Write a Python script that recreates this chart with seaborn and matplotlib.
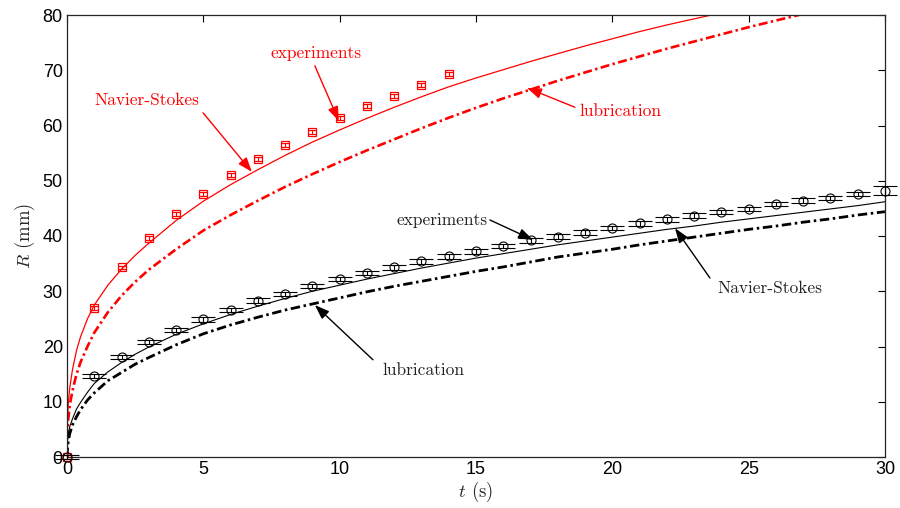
import numpy as np
import pandas as pd
import matplotlib
matplotlib.use("Agg")
import matplotlib.pyplot as plt
import seaborn as sns

# ---------------- data ----------------
t_exp_red = [0, 1, 2, 3, 4, 5, 6, 7, 8, 9, 10, 11, 12, 13, 14]
R_exp_red = [0, 27.0, 34.3, 39.6, 44.0, 47.6, 51.0, 53.9, 56.5, 58.9, 61.3, 63.5, 65.4, 67.3, 69.3]
err_red = [0.35] * len(t_exp_red)

t_exp_black = list(range(0, 31))
R_exp_black = [0, 14.7, 18.1, 20.8, 23.0, 24.9, 26.6, 28.3, 29.5, 30.9, 32.2,
               33.3, 34.3, 35.4, 36.3, 37.2, 38.2, 39.2, 39.9, 40.6, 41.5,
               42.3, 43.0, 43.7, 44.3, 44.9, 45.8, 46.4, 46.9, 47.6, 48.2]
err_black = [0.4] * 30 + [0.8]

t_curve = [0, 0.02, 0.05, 0.1, 0.2, 0.35, 0.5, 0.75, 1, 1.5, 2, 2.5, 3, 4, 5, 6, 7, 8, 9, 10,
           11, 12, 13, 14, 15, 16, 17, 18, 19, 20, 21, 22, 23, 24, 25, 26, 27, 28, 29, 30]

R_ns_red = [0, 7.0, 9.8, 12.5, 15.8, 19.3, 21.8, 25.0, 27.5, 31.1, 34.0, 36.5, 38.7, 42.8, 46.3,
            49.3, 52.0, 54.6, 57.0, 59.2, 61.3, 63.3, 65.2, 67.0, 68.6, 70.1, 71.6, 73.0, 74.4,
            75.7, 77.0, 78.2, 79.3, 80.4, 81.5, 82.6, 83.6, 84.6, 85.6, 86.6]

R_lub_red = [0, 4.8, 7.0, 9.3, 12.0, 15.0, 17.2, 20.0, 22.5, 26.2, 29.2, 31.7, 33.9, 37.6, 41.0,
             43.8, 46.4, 48.9, 51.2, 53.4, 55.5, 57.5, 59.5, 61.4, 63.2, 64.9, 66.5, 68.1, 69.6,
             71.1, 72.5, 73.9, 75.2, 76.5, 77.8, 79.0, 80.2, 81.4, 82.5, 83.6]

R_ns_black = [0, 3.0, 4.2, 5.5, 6.9, 8.7, 9.9, 11.7, 13.3, 15.4, 17.1, 18.6, 19.9, 22.2, 24.1,
              25.8, 27.3, 28.7, 30.0, 31.1, 32.2, 33.2, 34.2, 35.1, 36.0, 36.8, 37.6, 38.4, 39.1,
              39.8, 40.5, 41.2, 41.8, 42.5, 43.1, 43.7, 44.3, 44.9, 45.5, 46.2]

R_lub_black = [0, 1.8, 2.9, 4.2, 5.8, 7.3, 8.6, 10.3, 11.6, 13.8, 15.3, 16.8, 18.0, 20.3, 22.3,
               23.9, 25.3, 26.6, 27.7, 28.8, 29.9, 30.9, 31.8, 32.7, 33.6, 34.4, 35.3, 36.2, 36.9,
               37.6, 38.4, 39.1, 39.8, 40.5, 41.2, 41.8, 42.5, 43.1, 43.8, 44.4]

x_ticks = [0, 5, 10, 15, 20, 25, 30]
y_ticks = [0, 10, 20, 30, 40, 50, 60, 70, 80]

# ---------------- style ----------------
sns.set_theme(style="white")
plt.rcParams['font.family'] = ['Liberation Sans', 'DejaVu Sans']
plt.rcParams['mathtext.fontset'] = 'cm'
plt.rcParams['axes.unicode_minus'] = False

fig = plt.figure(figsize=(9, 5.08), dpi=100)
ax = fig.add_axes([67/900, 51/508, 818/900, 442/508])

RED = '#ff0000'

def curve(t, R, color, lw, dashed):
    n0 = len(ax.lines)
    sns.lineplot(x=t, y=R, ax=ax, color=color, linewidth=lw, estimator=None,
                 sort=False, legend=False)
    ln = ax.lines[n0]
    if dashed:
        ln.set_dashes([3.4, 1.3, 0.9, 1.3])
    return ln

curve(t_curve, R_ns_red, RED, 0.9, False)
curve(t_curve, R_lub_red, RED, 1.9, True)
curve(t_curve, R_ns_black, 'black', 0.8, False)
curve(t_curve, R_lub_black, 'black', 2.0, True)

# experiments with error bars
ax.errorbar(t_exp_red, R_exp_red, yerr=err_red, fmt='s', ms=5.3, mfc='none',
            mec=RED, ecolor=RED, elinewidth=0.8, capsize=2.8, capthick=0.8,
            mew=0.9, zorder=5, clip_on=False)
ax.errorbar(t_exp_black, R_exp_black, yerr=err_black, fmt='o', ms=6.5, mfc='none',
            mec='black', ecolor='black', elinewidth=0.8, capsize=8.5, capthick=0.8,
            mew=0.8, zorder=5, clip_on=False)

ax.set_xlim(0, 30)
ax.set_ylim(0, 80)
ax.set_xticks(x_ticks)
ax.set_yticks(y_ticks)
ax.tick_params(direction='in', top=True, right=True, length=5, width=0.8,
               colors='black', labelsize=13, pad=3)
for s in ax.spines.values():
    s.set_color('#262626')
    s.set_linewidth(0.9)

ax.set_xlabel(r'$t$ (s)', fontsize=13.5, family='cmr10', labelpad=1)
ax.set_ylabel(r'$R$ (mm)', fontsize=13.5, family='cmr10', labelpad=4)

# ---------------- annotations ----------------
def arrow(start, tip, color):
    ax.annotate('', xy=tip, xytext=start,
                arrowprops=dict(arrowstyle='-|>,head_length=0.55,head_width=0.2',
                                color=color, lw=1.0,
                                shrinkA=0, shrinkB=0, mutation_scale=16))

fs = 12.5
ax.text(2.93, 64.6, 'Navier-Stokes', color=RED, fontsize=fs, family='cmr10', ha='center', va='center')
arrow((4.99, 62.3), (6.78, 51.6), RED)
ax.text(9.13, 73.1, 'experiments', color=RED, fontsize=fs, family='cmr10', ha='center', va='center')
arrow((9.09, 70.8), (9.97, 60.8), RED)
ax.text(18.8, 62.6, 'lubrication', color=RED, fontsize=fs, family='cmr10', ha='left', va='center')
arrow((18.63, 63.3), (16.87, 66.8), RED)

ax.text(13.75, 42.9, 'experiments', color='#222222', fontsize=fs, family='cmr10', ha='center', va='center')
arrow((15.51, 42.9), (17.09, 39.3), 'black')
ax.text(13.09, 15.7, 'lubrication', color='#222222', fontsize=fs, family='cmr10', ha='center', va='center')
arrow((11.22, 17.6), (9.09, 27.5), 'black')
ax.text(25.78, 30.6, 'Navier-Stokes', color='#222222', fontsize=fs, family='cmr10', ha='center', va='center')
arrow((23.58, 32.4), (22.3, 41.4), 'black')

fig.savefig('out.png', dpi=100)
